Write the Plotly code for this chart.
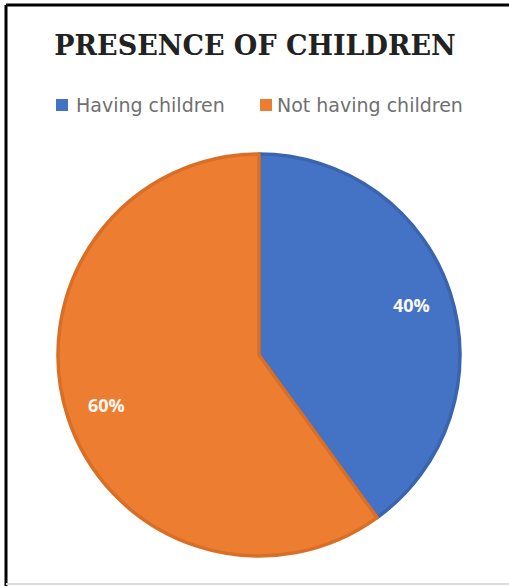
import math
import plotly.graph_objects as go

# Share of respondents by presence of children
categories = ["Having children", "Not having children"]
shares = [40, 60]
slice_colors = ["#4472C4", "#ED7D31"]
edge_colors = ["#3B64AE", "#D96F27"]

W, H = 509, 586
cx, cy, r = 259, 355, 201  # pie centre and radius in pixels

fig = go.Figure()
fig.add_trace(go.Pie(
    labels=categories,
    values=shares,
    sort=False,
    direction="clockwise",
    rotation=0,
    marker=dict(colors=slice_colors, line=dict(color=edge_colors, width=3.5)),
    textinfo="none",
    hoverinfo="label+percent",
    showlegend=False,
    domain=dict(x=[(cx - r) / W, (cx + r) / W], y=[1 - (cy + r) / H, 1 - (cy - r) / H]),
))

# percentage labels placed along each slice's bisector
total = sum(shares)
start = 0.0
label_radius = 0.8
annotations = []
for v in shares:
    mid = (start + v / 2) / total * 2 * math.pi
    start += v
    px = cx + label_radius * r * math.sin(mid)
    py = cy - label_radius * r * math.cos(mid)
    annotations.append(dict(
        x=px / W, y=1 - py / H, xref="paper", yref="paper",
        xanchor="center", yanchor="middle",
        text=f"<b>{v / total * 100:.0f}%</b>", showarrow=False,
        font=dict(family="Open Sans, Arial", size=18, color="#fbf7f2"),
    ))

# legend row drawn as text items with coloured squares
legend_y = 1 - 105 / H
legend_items = [(56, 74, 0), (260, 275, 1)]
shapes = []
for x0, tx, i in legend_items:
    shapes.append(dict(type="rect", xref="paper", yref="paper",
                       x0=x0 / W, x1=(x0 + 12) / W,
                       y0=1 - 111 / H, y1=1 - 99 / H,
                       fillcolor=slice_colors[i], line=dict(width=0)))
    annotations.append(dict(
        x=tx / W, y=legend_y, xref="paper", yref="paper",
        xanchor="left", yanchor="middle", text=categories[i], showarrow=False,
        font=dict(family="DejaVu Sans, Arial", size=19, color="#707070"),
    ))

# chart frame
shapes += [
    dict(type="line", xref="paper", yref="paper", x0=6 / W, x1=1, y0=1 - 5 / H, y1=1 - 5 / H,
         line=dict(color="black", width=3)),
    dict(type="line", xref="paper", yref="paper", x0=6 / W, x1=6 / W, y0=0, y1=1 - 5 / H,
         line=dict(color="black", width=3)),
    dict(type="line", xref="paper", yref="paper", x0=6 / W, x1=1, y0=1 - 584 / H, y1=1 - 584 / H,
         line=dict(color="#dcdcdc", width=2)),
]

fig.update_layout(
    width=W, height=H,
    margin=dict(l=0, r=0, t=0, b=0),
    paper_bgcolor="white",
    title=dict(text="<b>PRESENCE OF CHILDREN</b>", x=255 / W, xanchor="center",
               y=1 - 46 / H, yanchor="middle",
               font=dict(family="DejaVu Serif, Liberation Serif", size=27, color="#222222")),
    annotations=annotations,
    shapes=shapes,
)

fig.write_html("out.html")
